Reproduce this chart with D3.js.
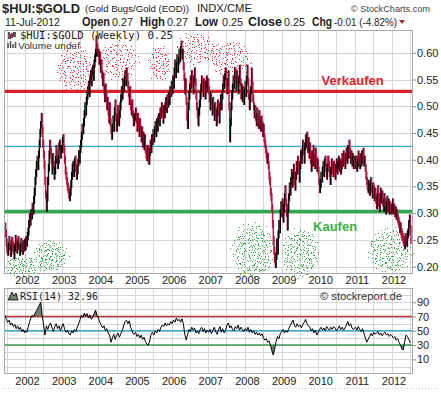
<!DOCTYPE html>
<html>
<head>
<meta charset="utf-8">
<script src="https://cdn.jsdelivr.net/npm/d3@7"></script>
<style>
  body { margin: 0; background: #fff; }
  svg text { font-family: "Liberation Sans", Arial, sans-serif; fill: #222; }
</style>
</head>
<body>
<script>
// weekly closes of $HUI:$GOLD, one array per year (first week given in weekStarts)
var weekStarts = ["2001-06-15","2002-01-04","2003-01-03","2004-01-02","2005-01-07","2006-01-06",
                  "2007-01-05","2008-01-04","2009-01-02","2010-01-01","2011-01-07","2012-01-06"];
var hui2001 = [0.275,0.262,0.245,0.232,0.228,0.238,0.25,0.242,0.226,0.235,0.248,0.24,0.23,0.222,0.236,
               0.252,0.245,0.232,0.24,0.25,0.238,0.228,0.235,0.246,0.238,0.23,0.242,0.236,0.245];
var hui2002 = [0.238,0.25,0.245,0.258,0.266, 0.28,0.292,0.284,0.30,0.296,0.312,0.305,0.325,0.34,
               0.36,0.375,0.39,0.40,0.388,0.41,0.43,0.45,0.465,0.48, 0.455,0.43,0.41,0.39,0.36,0.335,0.31,0.33,
               0.36,0.385,0.41,0.43,0.415,0.40,0.38,0.405, 0.39,0.37,0.38,0.40,0.42,0.41,0.39,0.40,0.425,0.43,0.41,0.42];
var hui2003 = [0.42,0.435,0.44,0.42,0.40,0.38,0.37,0.36, 0.35,0.345,0.335,0.33,0.34,0.355,0.37,
               0.385,0.39,0.375,0.395,0.40,0.385,0.37,0.38,0.395,0.41,0.40,
               0.42,0.43,0.445,0.46,0.455,0.47,0.485,0.50,0.49,0.51,0.52,
               0.53,0.54,0.525,0.55,0.56,0.545,0.565,0.57,0.555,0.58,0.59,0.60,0.625, 0.61,0.60];
var hui2004 = [0.60,0.585,0.595,0.57,0.58,0.56, 0.545,0.555,0.53,0.515,0.535,0.52,0.50,0.51,
               0.49,0.475,0.50,0.47,0.455,0.445,0.46, 0.475,0.46,0.49,0.505,0.48,0.46,0.475,0.495,0.47,0.485,
               0.50,0.515,0.53,0.52,0.545,0.535,0.55,0.56,0.545,0.565,
               0.555,0.54,0.525,0.51,0.53,0.50,0.49,0.505,0.485,0.47,0.48];
var hui2005 = [0.49,0.475,0.46,0.48,0.465,0.45,0.47,0.455, 0.44,0.455,0.43,0.445,0.425,0.44,0.42,0.41,
               0.405,0.42,0.40,0.398,0.415, 0.43,0.42,0.44,0.435,0.45,0.44,0.455,0.465,0.45,0.47,
               0.46,0.475,0.48,0.47,0.49,0.485,0.50,0.49,0.475,0.495,
               0.485,0.50,0.51,0.495,0.515,0.505,0.52,0.51,0.53,0.525,0.54];
var hui2006 = [0.53,0.55,0.54,0.565,0.58,0.56,0.575,0.59,0.57,0.585,0.60, 0.59,0.605,0.615,0.595,0.60,0.575,
               0.555,0.53,0.545,0.51,0.48,0.465, 0.50,0.52,0.535,0.55,0.54,0.56,0.545,0.53,0.55,0.565,0.545,
               0.52,0.50,0.485,0.47,0.49,0.505,0.52, 0.535,0.55,0.54,0.525,0.545,0.53,0.52,0.54,0.55,0.535,0.545];
var hui2007 = [0.53,0.515,0.50,0.52,0.505,0.49,0.51,0.495,0.48, 0.50,0.485,0.47,0.49,0.505,0.49,0.475,0.50,0.515,0.50,
               0.52,0.535,0.55,0.54,0.555,0.565,0.545,0.53,0.545,0.56, 0.50,0.44,0.47,
               0.50,0.52,0.535,0.55,0.54,0.565,0.55,0.535,0.56,0.545,0.53,
               0.55,0.57,0.545,0.52,0.535,0.515,0.53,0.51,0.525];
var hui2008 = [0.54,0.525,0.55,0.57,0.545,0.52,0.50,0.515,0.53, 0.565,0.54,0.515,0.50,0.485,0.495,
               0.48,0.47,0.49,0.475,0.465,0.485,0.47,0.46,0.475,0.465, 0.45,0.46,0.44,0.43,0.42,0.41,0.40,0.405,
               0.39,0.37,0.36,0.34,0.33,0.31, 0.28,0.25,0.23,0.215,0.205,0.22, 0.245,0.23,0.26,0.28,0.27,0.30,0.315];
var hui2009 = [0.30,0.32,0.29,0.31,0.33,0.345,0.32,0.30,0.275, 0.31,0.33,0.35,0.34,0.36,0.375,0.355,0.37,0.385,0.36,
               0.35,0.37,0.39,0.38,0.40,0.385,0.365,0.39,0.41,0.40, 0.415,0.43,0.42,0.40,0.425,0.44,0.43,0.445,0.42,0.435,
               0.41,0.425,0.40,0.385,0.41,0.395,0.42,0.405,0.39,0.415,0.40,0.385,0.395];
var hui2010 = [0.38,0.36,0.345,0.355,0.37,0.365,0.38, 0.39,0.375,0.395,0.40,0.385,0.37,0.385,0.40,0.39,0.375,0.36,0.38,0.395,0.385,
               0.375,0.39,0.38,0.37,0.385,0.395,0.38,0.39,0.40,0.385,0.395,0.38,0.39,0.405,
               0.395,0.41,0.40,0.39,0.405,0.415,0.40,0.42,0.41,0.43, 0.415,0.40,0.41,0.395,0.405,0.39,0.40];
var hui2011 = [0.39,0.40,0.385,0.395,0.41,0.40,0.39,0.405,0.395,0.41,0.40,0.415,0.395,0.40,0.385,
               0.37,0.36,0.35,0.345,0.355,0.34,0.35,0.36,0.345,0.335,0.35,
               0.345,0.33,0.34,0.325,0.315,0.33,0.345,0.32,0.31,0.33,0.34,0.325,0.335,
               0.32,0.31,0.33,0.32,0.305,0.315,0.325,0.31,0.32,0.305,0.315,0.31,0.305];
var hui2012 = [0.31,0.32,0.305,0.31,0.30,0.305,0.295,0.30,0.29, 0.285,0.28,0.27,0.275,0.265,0.26,0.255,0.25,
               0.245,0.24,0.255,0.25,0.245,0.26,0.265, 0.28,0.29,0.27,0.25];
var huiYears = [hui2001,hui2002,hui2003,hui2004,hui2005,hui2006,hui2007,hui2008,hui2009,hui2010,hui2011,hui2012];

// RSI(14), read every second week from the same start dates
var rsi2001 = [72,66,62,65,58,61,56,59,53,57,52,55,49,52,47];
var rsi2002 = [50,48,55,62,68,72,70,75,78,82,86,90,72,58,44,57,52,58,61,54,49,56,60,53,57,50];
var rsi2003 = [56,60,52,48,51,46,44,50,47,52,49,55,60,66,72,69,75,71,74,68,72,66,70,74,79,72];
var rsi2004 = [68,62,58,54,57,50,53,47,44,34,40,45,38,44,47,41,46,50,57,63,65,60,64,55,50,45];
var rsi2005 = [48,42,45,40,44,38,41,35,31,30,36,45,48,44,50,47,52,49,55,58,56,61,57,60,58,63];
var rsi2006 = [60,65,62,68,64,66,62,67,60,45,37,45,52,49,55,51,54,47,50,46,52,55,49,53,47,51];
var rsi2007 = [48,52,46,50,55,49,45,51,56,48,53,47,50,58,61,54,57,52,50,56,53,58,51,55,52,49];
var rsi2008 = [53,50,55,48,52,47,50,45,48,44,47,43,46,40,37,39,34,36,30,22,16,25,35,42,39,46];
var rsi2009 = [49,52,47,50,48,53,57,61,65,58,55,60,56,58,54,59,62,66,60,57,55,50,53,47,51,44];
var rsi2010 = [48,52,55,51,54,50,56,53,51,55,52,56,54,50,53,57,52,55,51,54,58,63,57,60,54,52];
var rsi2011 = [55,51,56,52,49,53,47,40,34,38,42,46,43,48,45,47,49,44,47,43,46,48,44,46,42,45];
var rsi2012 = [43,40,42,37,39,34,30,25,23,35,44,42,38,33];
var rsiYears = [rsi2001,rsi2002,rsi2003,rsi2004,rsi2005,rsi2006,rsi2007,rsi2008,rsi2009,rsi2010,rsi2011,rsi2012];

var priceTicks = [0.20,0.25,0.30,0.35,0.40,0.45,0.50,0.55,0.60];
var rsiTicks = [10,30,50,70,90];
var yearTicks = [2002,2003,2004,2005,2006,2007,2008,2009,2010,2011,2012];
var sellLevel = 0.528, buyLevel = 0.303, midLevel = 0.425;

// spray-painted zones: [decimal year, value, x radius (years), y radius (value), dots]
var sellZones = [[2003.35,0.571,0.48,0.041,150],[2004.54,0.586,0.52,0.036,130],[2005.66,0.581,0.30,0.032,85],
                 [2006.67,0.609,0.52,0.028,110],[2007.59,0.590,0.57,0.032,140]];
var buyZones = [[2001.92,0.202,0.46,0.019,100],[2002.68,0.221,0.46,0.028,150],[2008.22,0.230,0.57,0.051,260],
                [2009.50,0.226,0.49,0.045,210],[2011.96,0.2315,0.60,0.041,220]];

var W = 441, H = 393;
var plotL = 4, plotR = 413;
var main = {top: 30, bottom: 274}, lower = {top: 288, bottom: 374};

var parseDate = d3.timeParse("%Y-%m-%d");
function toSeries(years, step) {
  var out = [];
  years.forEach(function(arr, k) {
    var s = parseDate(weekStarts[k]);
    arr.forEach(function(v, i) { out.push({date: d3.timeDay.offset(s, step * i), v: v}); });
  });
  return out;
}
var price = toSeries(huiYears, 7);
var rsi = toSeries(rsiYears, 14);
function yearDate(t) {
  var y0 = Math.floor(t), a = new Date(y0, 0, 1), b = new Date(y0 + 1, 0, 1);
  return new Date(+a + (t - y0) * (b - a));
}
// Halton sequence, used for a deterministic spray texture
function halton(i, b) {
  var f = 1, r = 0;
  while (i > 0) { f /= b; r += f * (i % b); i = Math.floor(i / b); }
  return r;
}

var x = d3.scaleTime().domain([new Date(2002, 0, 1), new Date(2012, 0, 1)]).range([25, 391.5]);
var y = d3.scaleLinear().domain([0.1863, 0.6426]).range([main.bottom, main.top]);
var yr = d3.scaleLinear().domain([-10.5, 110]).range([lower.bottom, lower.top]);
var halfYears = d3.timeMonth.every(6).range(new Date(2001, 6, 1), new Date(2012, 7, 1));

var svg = d3.select("body").append("svg").attr("width", W).attr("height", H);

// header
svg.append("text").attr("x", 2).attr("y", 13).style("font-size", "13px").style("font-weight", "bold")
  .attr("textLength", 78).attr("lengthAdjust", "spacingAndGlyphs").text("$HUI:$GOLD");
svg.append("text").attr("x", 85).attr("y", 11.5).style("font-size", "9.6px")
  .attr("textLength", 104).attr("lengthAdjust", "spacingAndGlyphs").text("(Gold Bugs/Gold (EOD))");
svg.append("text").attr("x", 197).attr("y", 11.5).style("font-size", "10.5px")
  .attr("textLength", 55).attr("lengthAdjust", "spacingAndGlyphs").text("INDX/CME");
svg.append("text").attr("x", 351).attr("y", 11.5).style("font-size", "8.9px").style("fill", "#444")
  .attr("textLength", 79).attr("lengthAdjust", "spacingAndGlyphs").text("\u00a9 StockCharts.com");
svg.append("text").attr("x", 5).attr("y", 26).style("font-size", "10.5px")
  .attr("textLength", 55).attr("lengthAdjust", "spacingAndGlyphs").text("11-Jul-2012");
var quote = [["Open", 82, 28, true], ["0.27", 112, 21], ["High", 140, 25, true], ["0.27", 167, 21],
             ["Low", 195, 23, true], ["0.25", 222, 21], ["Close", 248, 34, true], ["0.25", 284, 21],
             ["Chg", 312, 20, true], ["-0.01 (-4.82%)", 334, 63]];
quote.forEach(function(q) {
  svg.append("text").attr("x", q[1]).attr("y", 26)
    .style("font-size", q[3] ? "12px" : "10.5px").style("font-weight", q[3] ? "bold" : "normal")
    .attr("textLength", q[2]).attr("lengthAdjust", "spacingAndGlyphs").text(q[0]);
});
svg.append("path").attr("d", "M399,20L405,20L402,24Z").attr("fill", "#9b2d3a");

// panels
function panel(p, yscale, ticks) {
  var g = svg.append("g");
  g.append("rect").attr("x", plotL).attr("y", p.top).attr("width", plotR - plotL).attr("height", p.bottom - p.top)
    .attr("fill", "#fff");
  g.selectAll(".vg").data(halfYears).enter().append("line")
    .attr("x1", function(d) { return Math.round(x(d)) + 0.5; }).attr("x2", function(d) { return Math.round(x(d)) + 0.5; })
    .attr("y1", p.top).attr("y2", p.bottom).attr("stroke", "#d6d6d6");
  g.selectAll(".hg").data(ticks).enter().append("line")
    .attr("x1", plotL).attr("x2", plotR)
    .attr("y1", function(d) { return Math.round(yscale(d)) + 0.5; }).attr("y2", function(d) { return Math.round(yscale(d)) + 0.5; })
    .attr("stroke", "#d6d6d6");
  return g;
}
var rsiGrid = [0, 10, 20, 30, 40, 50, 60, 70, 80, 90, 100];
var gMain = panel(main, y, priceTicks);
var gRsi = panel(lower, yr, rsiGrid);

// spray zones: even fill with a soft, ragged rim (Halton sequence, no randomness)
function spray(zones, color, seed) {
  zones.forEach(function(z, k) {
    var cx = x(yearDate(z[0])), cy = y(z[1]);
    var rx = x(yearDate(z[0] + z[2])) - cx, ry = y(z[1] - z[3]) - cy;
    for (var n = 0; n < z[4]; n++) {
      var i = seed + k * 977 + n;
      var r = Math.sqrt(halton(i, 2)) * (0.8 + 0.35 * halton(i, 5)), a = 2 * Math.PI * halton(i, 3);
      gMain.append("rect").attr("x", Math.round(cx + rx * r * Math.cos(a))).attr("y", Math.round(cy + ry * r * Math.sin(a)))
        .attr("width", 1).attr("height", 1).attr("fill", color);
    }
  });
}
spray(sellZones, "#e0393f", 17);
spray(buyZones, "#37a84c", 5311);

// level lines
gMain.append("line").attr("x1", plotL).attr("x2", plotR).attr("y1", y(midLevel)).attr("y2", y(midLevel))
  .attr("stroke", "#34a6cf").attr("stroke-width", 1.2);
gMain.append("line").attr("x1", plotL).attr("x2", plotR).attr("y1", y(sellLevel)).attr("y2", y(sellLevel))
  .attr("stroke", "#d8232d").attr("stroke-width", 3.2);
gMain.append("line").attr("x1", plotL).attr("x2", plotR).attr("y1", y(buyLevel)).attr("y2", y(buyLevel))
  .attr("stroke", "#2fa84f").attr("stroke-width", 3.5);

// weekly bars spanning previous close to close, with a short wick each side
var steps = price.slice(1).map(function(d, i) { return {date: d.date, v0: price[i].v, v: d.v, up: d.v >= price[i].v}; });
gMain.selectAll(".bar").data(steps).enter().append("line")
  .attr("x1", function(d) { return x(d.date); }).attr("x2", function(d) { return x(d.date); })
  .attr("y1", function(d) { return y(Math.min(d.v0, d.v)) + 4; })
  .attr("y2", function(d) { return y(Math.max(d.v0, d.v)) - 4; })
  .attr("stroke", function(d) { return d.up ? "#000" : "#b3123e"; }).attr("stroke-width", 1.4);

gMain.append("text").attr("x", x(yearDate(2010.94))).attr("y", y(sellLevel) - 6.5).attr("text-anchor", "middle")
  .style("font-size", "13px").style("font-weight", "bold").style("fill", "#d8232d").text("Verkaufen");
gMain.append("text").attr("x", x(yearDate(2010.46))).attr("y", y(buyLevel) + 19).attr("text-anchor", "middle")
  .style("font-size", "13px").style("font-weight", "bold").style("fill", "#3cb04a").text("Kaufen");

// RSI panel
svg.append("clipPath").attr("id", "above70").append("rect")
  .attr("x", plotL).attr("y", lower.top).attr("width", plotR - plotL).attr("height", yr(70) - lower.top);
svg.append("clipPath").attr("id", "below30").append("rect")
  .attr("x", plotL).attr("y", yr(30)).attr("width", plotR - plotL).attr("height", lower.bottom - yr(30));
gRsi.append("path").datum(rsi).attr("clip-path", "url(#above70)").attr("fill", "#6f826f")
  .attr("d", d3.area().x(function(d) { return x(d.date); }).y0(yr(70)).y1(function(d) { return yr(d.v); }));
gRsi.append("path").datum(rsi).attr("clip-path", "url(#below30)").attr("fill", "#6f826f")
  .attr("d", d3.area().x(function(d) { return x(d.date); }).y0(yr(30)).y1(function(d) { return yr(d.v); }));
[[70, "#b33a3a"], [50, "#3aa9d2"], [30, "#3a9a55"]].forEach(function(l) {
  gRsi.append("line").attr("x1", plotL).attr("x2", plotR).attr("y1", yr(l[0])).attr("y2", yr(l[0]))
    .attr("stroke", l[1]).attr("stroke-width", 1.5);
});
gRsi.append("path").datum(rsi).attr("fill", "none").attr("stroke", "#000").attr("stroke-width", 1)
  .attr("d", d3.line().x(function(d) { return x(d.date); }).y(function(d) { return yr(d.v); }));

// frames
[main, lower].forEach(function(p) {
  svg.append("rect").attr("x", plotL + 0.5).attr("y", p.top + 0.5).attr("width", plotR - plotL - 1)
    .attr("height", p.bottom - p.top - 1).attr("fill", "none").attr("stroke", "#a8a8a8");
});

// axes
function rightAxis(scale, ticks, fmt) {
  var g = svg.append("g").attr("transform", "translate(" + plotR + ",0)")
    .call(d3.axisRight(scale).tickValues(ticks).tickFormat(fmt).tickSize(3).tickPadding(1));
  g.select(".domain").remove();
  g.selectAll(".tick line").attr("stroke", "#888");
  g.selectAll("text").style("font-size", "11px").style("fill", "#222").attr("font-family", null);
}
rightAxis(y, priceTicks, d3.format(".2f"));
rightAxis(yr, rsiTicks, d3.format("d"));

function yearAxis(yy) {
  var g = svg.append("g").attr("transform", "translate(2," + yy + ")")
    .call(d3.axisBottom(x).tickValues(yearTicks.map(function(t) { return new Date(t, 0, 1); }))
      .tickFormat(d3.timeFormat("%Y")).tickSize(0).tickPadding(0));
  g.select(".domain").remove();
  g.selectAll("text").style("font-size", "11px").style("fill", "#222").attr("font-family", null);
}
yearAxis(276);
yearAxis(377);

// legends
svg.append("text").attr("x", 20).attr("y", 38.5).style("font-family", "'DejaVu Sans Mono', monospace")
  .style("font-size", "10.3px").attr("textLength", 153).attr("lengthAdjust", "spacingAndGlyphs")
  .text("$HUI:$GOLD (Weekly) 0.25");
svg.append("path").attr("d", "M9,32V39M12,33V38M15,32V37").attr("stroke", "#000").attr("stroke-width", 1.3);
svg.append("path").attr("d", "M10.5,34V39M13.5,32V37").attr("stroke", "#b3123e").attr("stroke-width", 1);
svg.append("text").attr("x", 18).attr("y", 48.5).style("font-size", "9.5px").style("fill", "#333")
  .attr("textLength", 62).attr("lengthAdjust", "spacingAndGlyphs").text("Volume undef");
svg.append("path").attr("d", "M8,48V43M10.5,48V41M13,48V44M15.5,48V42").attr("stroke", "#555").attr("stroke-width", 1.6);

svg.append("path").attr("d", "M8,300L12,292L14,296L16,293L18,300Z").attr("fill", "#6f826f").attr("stroke", "#000")
  .attr("stroke-width", 0.8);
svg.append("text").attr("x", 20).attr("y", 299.5).style("font-family", "'DejaVu Sans Mono', monospace")
  .style("font-size", "10px").attr("textLength", 78).attr("lengthAdjust", "spacingAndGlyphs").text("RSI(14) 32.96");
svg.append("text").attr("x", 320).attr("y", 299.5).style("font-size", "10.5px").style("fill", "#333")
  .attr("textLength", 82).attr("lengthAdjust", "spacingAndGlyphs").text("\u00a9 stockreport.de");

svg.append("line").attr("x1", 2).attr("x2", 439).attr("y1", 388.5).attr("y2", 388.5)
  .attr("stroke", "#c8c8c8").attr("stroke-dasharray", "1,2");
</script>
</body>
</html>
